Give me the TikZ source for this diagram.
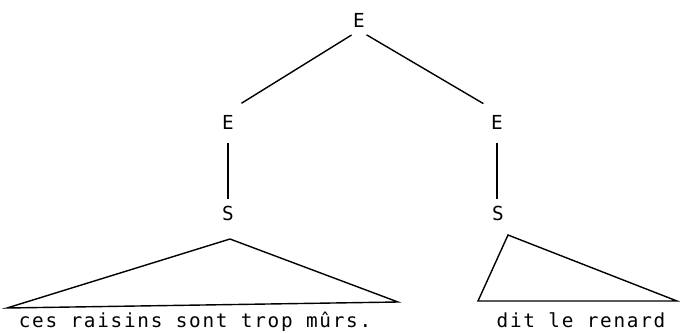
\documentclass[tikz,border=0pt]{standalone}
\usepackage{fontspec}
\usepackage{tikz}
\newfontfamily\treefont[LetterSpace=9]{DejaVu Sans Mono}

\begin{document}
\begin{tikzpicture}[x=0.02cm, y=-0.02cm, line width=0.8pt,
    font=\treefont\fontsize{11}{13}\selectfont,
    every node/.style={align=center},
    cat/.style={inner sep=1.5pt},
    branch/.style={shorten <=5pt, shorten >=9pt},
    unary/.style={shorten <=6pt, shorten >=2pt}]
        \useasboundingbox (0,0) rectangle (680,332);

        % Category labels (top to bottom)
        \node[cat] (eTop) at (359,20) {E};
        \node[cat] (eL) at (228,122) {E};
        \node[cat] (eR) at (497,122) {E};
        \node[cat] (sL) at (228,213) {S};
        \node[cat] (sR) at (498,213) {S};

        % Branches
        \draw[branch] (eTop.south) -- (eL.north);
        \draw[branch] (eTop.south) -- (eR.north);
        \draw[unary] (eL.south) -- (sL.north);
        \draw[unary] (eR.south) -- (eR.south |- sR.north);

        % Triangles under S
        \coordinate (lApex) at (230,239);
        \coordinate (lLeft) at (7,308);
        \coordinate (lRight) at (398,302);
        \draw (lApex) -- (lLeft) -- (lRight) -- cycle;

        \coordinate (rApex) at (508,235);
        \coordinate (rLeft) at (478,301);
        \coordinate (rRight) at (677,301);
        \draw (rApex) -- (rLeft) -- (rRight) -- cycle;

        % Terminal strings
        \node[anchor=base] (phraseL) at (195,327) {ces raisins sont trop mûrs.};
        \node[anchor=base] (phraseR) at (581,327) {dit le renard};
      \end{tikzpicture}
\end{document}
